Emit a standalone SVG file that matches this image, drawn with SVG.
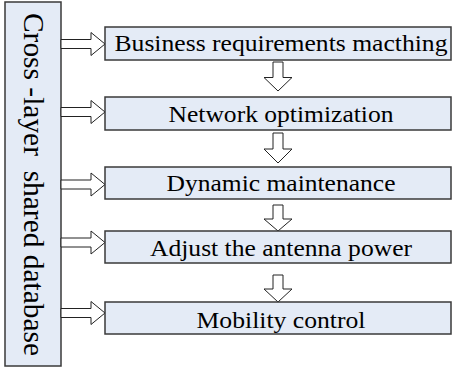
<svg xmlns="http://www.w3.org/2000/svg" xmlns:xlink="http://www.w3.org/1999/xlink" width="460" height="368" viewBox="0 0 460 368">
  <style>
    .box { fill: #E4EBF6; stroke: #3a3a3a; stroke-width: 1.5; }
    .lbl { font-family: "Liberation Serif", "Tinos", "DejaVu Serif", "Noto Serif", serif; font-size: 22.5px; fill: #000; text-anchor: middle; }
    .side { font-family: "Liberation Serif", "Tinos", "DejaVu Serif", "Noto Serif", serif; font-size: 29px; fill: #000; }
    .arr { fill: #fff; stroke: #222; stroke-width: 1; stroke-linejoin: miter; }
  </style>
  <defs>
    <path id="harrow" d="M0,-4.5 H30 V-11.5 L44,0 L30,11.5 V4.5 H0 Z"/>
  </defs>
  <rect width="460" height="368" fill="#fff"/>

  <g id="database">
    <rect class="box" x="5" y="2" width="56" height="364"/>
    <text class="side" xml:space="preserve" transform="translate(24,13) rotate(90)" textLength="343" lengthAdjust="spacingAndGlyphs">Cross -layer  shared database</text>
  </g>

  <g id="connectors">
    <use xlink:href="#harrow" class="arr" transform="translate(61,44)"/>
    <use xlink:href="#harrow" class="arr" transform="translate(61,112)"/>
    <use xlink:href="#harrow" class="arr" transform="translate(61,184.5)"/>
    <use xlink:href="#harrow" class="arr" transform="translate(61,242.5)"/>
    <use xlink:href="#harrow" class="arr" transform="translate(61,313)"/>
    <path class="arr" d="M273,62 H283 V77.5 H292 L278,91 L264,77.5 H273 Z"/>
    <path class="arr" d="M273,133 H283 V149 H292 L278,163 L264,149 H273 Z"/>
    <path class="arr" d="M273,205 H283 V219 H292 L278,231 L264,219 H273 Z"/>
    <path class="arr" d="M273,275 H283 V289 H292 L278,302 L264,289 H273 Z"/>
  </g>

  <g id="n1">
    <rect class="box" x="105" y="27" width="346" height="33"/>
    <text class="lbl" x="281" y="51" textLength="333" lengthAdjust="spacingAndGlyphs">Business requirements macthing</text>
  </g>
  <g id="n2">
    <rect class="box" x="105" y="97" width="346" height="33"/>
    <text class="lbl" x="281" y="121.5" textLength="225" lengthAdjust="spacingAndGlyphs">Network optimization</text>
  </g>
  <g id="n3">
    <rect class="box" x="105" y="167" width="346" height="32"/>
    <text class="lbl" x="281" y="191" textLength="229" lengthAdjust="spacingAndGlyphs">Dynamic maintenance</text>
  </g>
  <g id="n4">
    <rect class="box" x="105" y="231" width="346" height="32"/>
    <text class="lbl" x="281" y="255.5" textLength="262" lengthAdjust="spacingAndGlyphs">Adjust the antenna power</text>
  </g>
  <g id="n5">
    <rect class="box" x="105" y="302" width="346" height="32"/>
    <text class="lbl" x="281" y="327.5" textLength="169" lengthAdjust="spacingAndGlyphs">Mobility control</text>
  </g>
</svg>
